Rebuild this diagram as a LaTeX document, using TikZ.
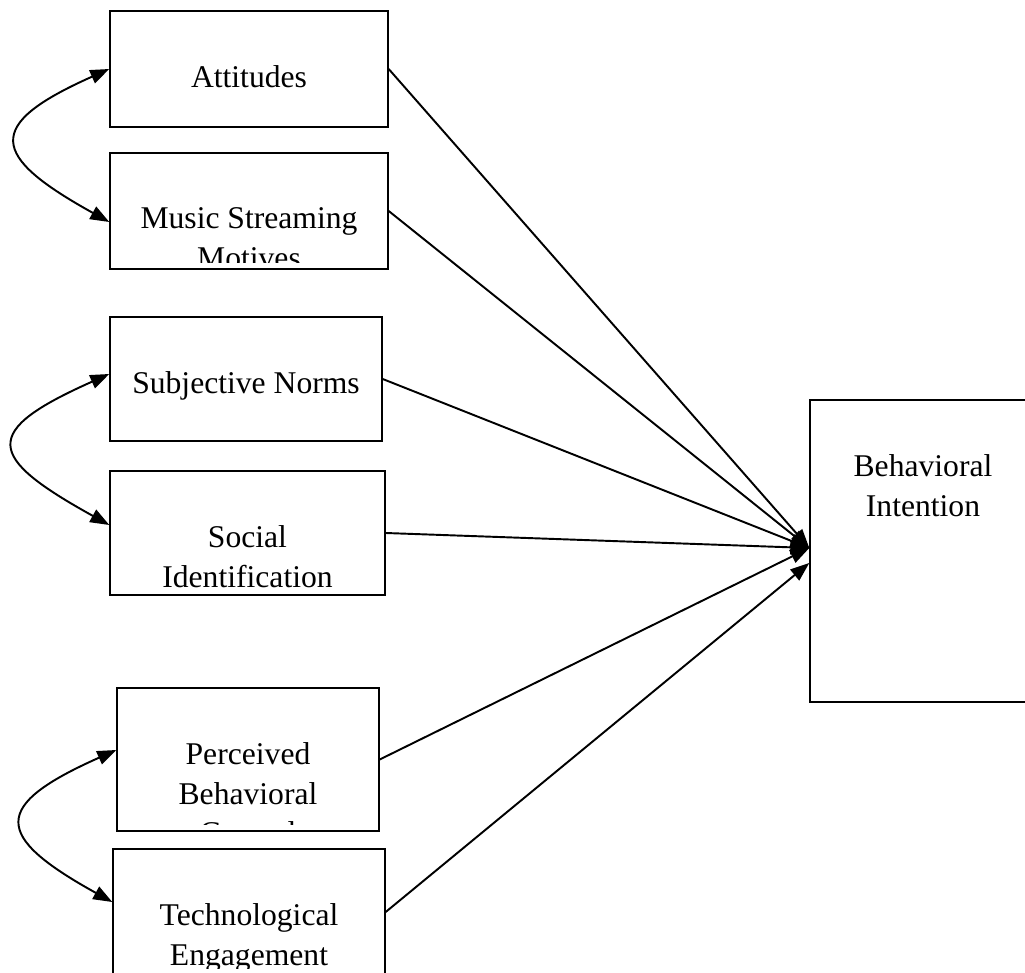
\documentclass[tikz,border=0pt]{standalone}
\usepackage{fontspec}
\setmainfont{Liberation Serif}
\usetikzlibrary{arrows.meta}

\tikzset{
	factortext/.style={draw=none, minimum width=0pt, minimum height=0pt, anchor=north,
		align=center, inner sep=0pt, font=\fontsize{18}{22.5}\selectfont},
	factor/.style={draw, line width=0.8pt, inner sep=0pt,
		path picture={
			\clip (path picture bounding box.north west) rectangle ([yshift=0.14cm]path picture bounding box.south east);
			\node[factortext] at ([yshift=-1.08cm]path picture bounding box.north) {#1};
		}},
	effect/.style={-{Triangle[length=0.38cm, width=0.28cm]}, line width=1.1pt},
	covar/.style={{Triangle[length=0.38cm, width=0.28cm]}-{Triangle[length=0.38cm, width=0.28cm]}, line width=1.1pt}
}

\begin{document}
\begin{tikzpicture}[x=0.02cm, y=0.02cm]
	\def \px{0.02cm}

	\useasboundingbox (0,0) rectangle (1025,-973);
	\clip (0,0) rectangle (1025,-973);

	% Predictors
	\node[factor={Attitudes}, minimum width=278*\px, minimum height=116*\px] (att) at (249,-69) {};
	\node[factor={Music Streaming\\Motives}, minimum width=278*\px, minimum height=116*\px] (mus) at (249,-211) {};
	\node[factor={Subjective Norms}, minimum width=272*\px, minimum height=124*\px] (sub) at (246,-379) {};
	\node[factor={Social\\Identification}, minimum width=275*\px, minimum height=124*\px] (soc) at (247.5,-533) {};
	\node[factor={Perceived\\Behavioral\\Control}, minimum width=262*\px, minimum height=143*\px] (pbc) at (248,-759.5) {};
	\node[factor={Technological\\Engagement}, minimum width=272*\px, minimum height=126*\px] (tec) at (249,-912) {};

	% Outcome
	\node[factor={Behavioral\\Intention}, minimum width=226*\px, minimum height=302*\px] (bi) at (923,-551) {};

	% Paths
	\foreach \src in {att, mus, sub, soc, pbc} {
		\draw[effect] (\src.east) -- ([yshift=3*\px]bi.west);
	}
	\draw[effect] (tec.east) -- ([yshift=-12*\px]bi.west);

	% Covariances
	\draw[covar] (att.west) to[out=204, in=151, looseness=2.3] ([yshift=-11*\px]mus.west);
	\draw[covar] ([yshift=5*\px]sub.west) to[out=204, in=151, looseness=2.4] ([yshift=8*\px]soc.west);
	\draw[covar] ([yshift=9.5*\px]pbc.west) to[out=204, in=151, looseness=2.3] ([yshift=10*\px]tec.west);

\end{tikzpicture}
\end{document}
